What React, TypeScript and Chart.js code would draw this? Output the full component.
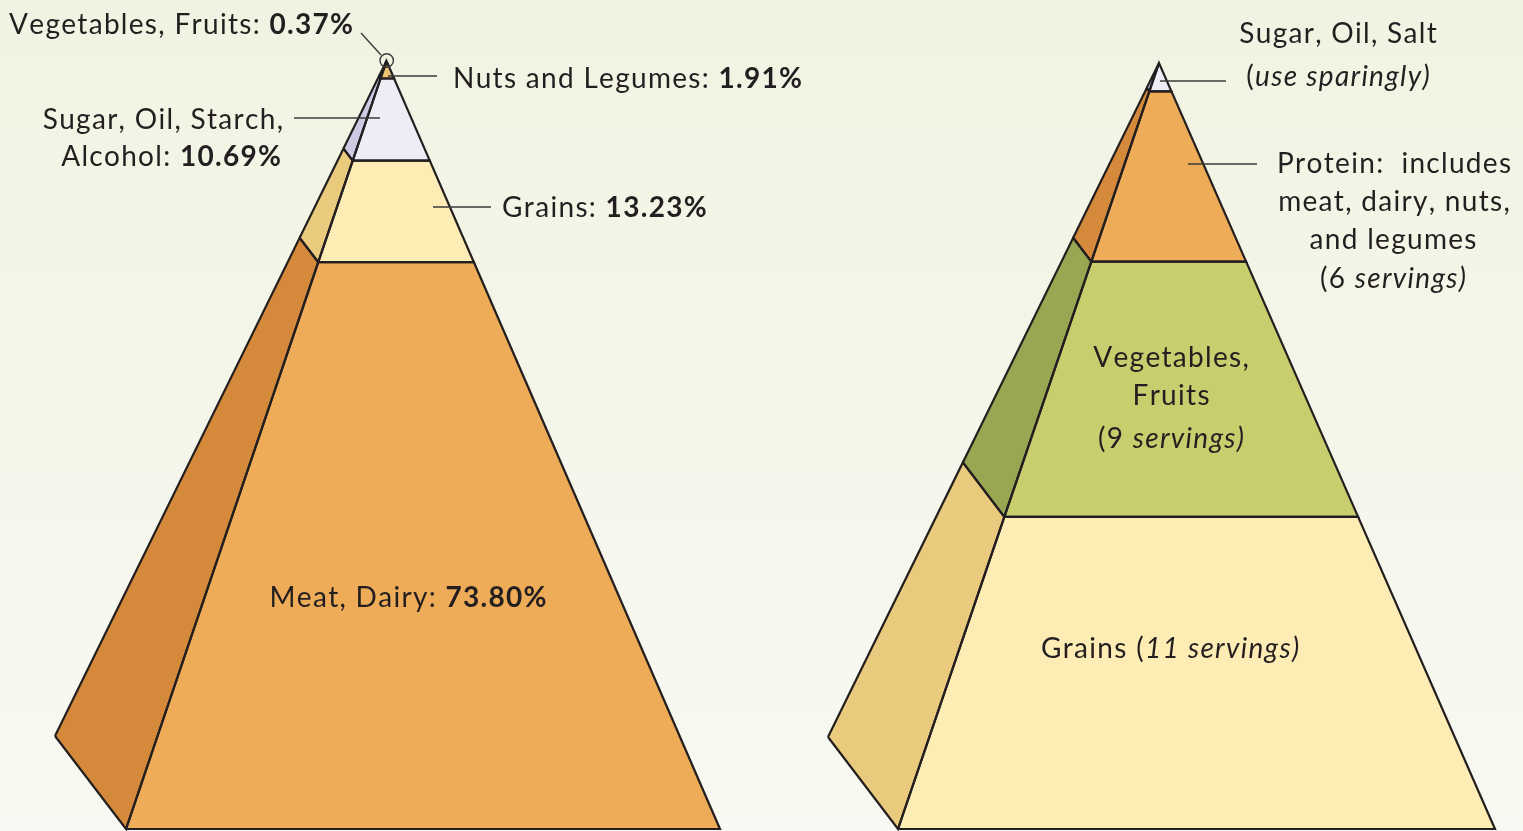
import { useEffect, useRef } from "react";
import { Chart, registerables } from "chart.js";

Chart.register(...registerables);

// ---------------- DATA ----------------
// Left pyramid: share of diet (percent), listed from base to apex
const dietCategories = ["Meat, Dairy", "Grains", "Sugar, Oil, Starch, Alcohol", "Nuts and Legumes", "Vegetables, Fruits"];
const dietPercents = [73.8, 13.23, 10.69, 1.91, 0.37];

// Right pyramid: recommended servings, listed from base to apex
const guideCategories = ["Grains", "Vegetables, Fruits", "Protein", "Sugar, Oil, Salt"];
const guideServings = [11, 9, 6, 1];

// ---------------- STYLE / LAYOUT ----------------
const W = 1523;
const H = 831;
const FAMILY = "Lato, 'Noto Sans', sans-serif";
const FS = 28;
const SPACING = 1.3;
const INK = "#231f20";

const dietFront = ["#efac58", "#feecb5", "#eeedf6", "#ebc46f", "#c8cd6e"];
const dietSide = ["#d5893a", "#eaca7c", "#cdcbe3", "#cfa24c", "#9aa752"];
const guideFront = ["#feecb5", "#c8cd6e", "#efac58", "#eeedf6"];
const guideSide = ["#eaca7c", "#9aa752", "#d5893a", "#cdcbe3"];

type Geo = { apexX: number; apexY: number; baseY: number; baseLX: number; baseRX: number; backX: number; backY: number };
const LEFT_GEO: Geo = { apexX: 386.5, apexY: 61, baseY: 829, baseLX: 126, baseRX: 720, backX: 55, backY: 736 };
const RIGHT_GEO: Geo = { apexX: 1159, apexY: 63, baseY: 829, baseLX: 898, baseRX: 1495, backX: 828, backY: 737 };

const sum = (a: number[]) => a.reduce((s, v) => s + v, 0);

function axisRange(geo: Geo, total: number) {
  const pxPerUnit = (geo.baseY - geo.apexY) / total;
  return { min: -(H - geo.baseY) / pxPerUnit, max: geo.baseY / pxPerUnit };
}

function pyramidDatasets(values: number[], geo: Geo, yAxisID: string, front: string[], side: string[], labels: string[]) {
  const total = sum(values);
  const backVal = ((geo.baseY - geo.backY) / (geo.baseY - geo.apexY)) * total;
  const t = (p: number) => 1 - p / total;
  const FL = (p: number) => ({ x: geo.apexX + t(p) * (geo.baseLX - geo.apexX), y: p });
  const FR = (p: number) => ({ x: geo.apexX + t(p) * (geo.baseRX - geo.apexX), y: p });
  const BK = (p: number) => ({ x: geo.apexX + t(p) * (geo.backX - geo.apexX), y: total - t(p) * (total - backVal) });
  const out: any[] = [];
  let cum = 0;
  values.forEach((v, i) => {
    const p0 = cum;
    const p1 = cum + v;
    cum = p1;
    const common = {
      yAxisID,
      xAxisID: "x",
      showLine: true,
      fill: "shape",
      borderColor: INK,
      borderWidth: 2.2,
      borderJoinStyle: "miter",
      pointRadius: 0,
      tension: 0,
    };
    out.push({ ...common, label: labels[i] + " (side)", backgroundColor: side[i], data: [BK(p0), FL(p0), FL(p1), BK(p1), BK(p0)] });
    out.push({ ...common, label: labels[i], backgroundColor: front[i], data: [FL(p0), FR(p0), FR(p1), FL(p1), FL(p0)] });
  });
  return out;
}

type Run = { t: string; b?: boolean; i?: boolean };
type TextLabel = { runs: Run[]; x: number; y: number; align: "left" | "right" | "center" };

const pct = (v: number) => v.toFixed(2) + "%";

const textLabels: TextLabel[] = [
  { runs: [{ t: dietCategories[4] + ": " }, { t: pct(dietPercents[4]), b: true }], x: 353, y: 34, align: "right" },
  { runs: [{ t: dietCategories[3] + ": " }, { t: pct(dietPercents[3]), b: true }], x: 453, y: 88, align: "left" },
  { runs: [{ t: "Sugar, Oil, Starch," }], x: 283, y: 129, align: "right" },
  { runs: [{ t: "Alcohol: " }, { t: pct(dietPercents[2]), b: true }], x: 281, y: 166, align: "right" },
  { runs: [{ t: dietCategories[1] + ": " }, { t: pct(dietPercents[1]), b: true }], x: 502, y: 217, align: "left" },
  { runs: [{ t: dietCategories[0] + ": " }, { t: pct(dietPercents[0]), b: true }], x: 408, y: 607, align: "center" },

  { runs: [{ t: guideCategories[3] }], x: 1338, y: 43, align: "center" },
  { runs: [{ t: "(" }, { t: "use sparingly)", i: true }], x: 1338, y: 86, align: "center" },
  { runs: [{ t: "Protein:  includes" }], x: 1394, y: 173, align: "center" },
  { runs: [{ t: "meat, dairy, nuts," }], x: 1394, y: 211, align: "center" },
  { runs: [{ t: "and legumes" }], x: 1393, y: 249, align: "center" },
  { runs: [{ t: "(" + guideServings[2] + " " }, { t: "servings)", i: true }], x: 1393, y: 288, align: "center" },
  { runs: [{ t: "Vegetables," }], x: 1171, y: 367, align: "center" },
  { runs: [{ t: "Fruits" }], x: 1171, y: 405, align: "center" },
  { runs: [{ t: "(" + guideServings[1] + " " }, { t: "servings)", i: true }], x: 1171, y: 448, align: "center" },
  { runs: [{ t: guideCategories[0] + " (" }, { t: guideServings[0] + " servings)", i: true }], x: 1170, y: 658, align: "center" },
];

const leaders = [
  [361, 33, 381, 55],
  [388, 76, 437, 76],
  [294, 118, 380, 118],
  [433, 207, 491, 207],
  [1160, 81, 1226, 81],
  [1188, 164, 1257, 164],
];
const tipCircle = { x: 386.7, y: 60.5, r: 6.7 };

const annotationPlugin = {
  id: "annotations",
  afterDatasetsDraw(chart: any) {
    const ctx: any = chart.ctx;
    const xs = chart.scales.x;
    const px = (v: number) => xs.getPixelForValue(v);
    ctx.save();
    ctx.strokeStyle = "#3a3a3a";
    ctx.lineWidth = 1.4;
    for (const [x1, y1, x2, y2] of leaders) {
      ctx.beginPath();
      ctx.moveTo(px(x1), y1);
      ctx.lineTo(px(x2), y2);
      ctx.stroke();
    }
    ctx.beginPath();
    ctx.arc(px(tipCircle.x), tipCircle.y, tipCircle.r, 0, Math.PI * 2);
    ctx.stroke();

    ctx.fillStyle = INK;
    ctx.textBaseline = "alphabetic";
    ctx.textAlign = "left";
    const fontFor = (r: Run) => `${r.i ? "italic " : ""}${r.b ? "bold " : ""}${FS}px ${FAMILY}`;
    // draw character by character to apply letter spacing reliably
    const runWidth = (r: Run) => {
      ctx.font = fontFor(r);
      let w = 0;
      for (const ch of r.t) w += ctx.measureText(ch).width + SPACING;
      return w;
    };
    for (const lab of textLabels) {
      const widths = lab.runs.map(runWidth);
      const total = sum(widths) - SPACING;
      let sx = px(lab.x);
      if (lab.align === "right") sx -= total;
      else if (lab.align === "center") sx -= total / 2;
      lab.runs.forEach((r) => {
        ctx.font = fontFor(r);
        for (const ch of r.t) {
          ctx.fillText(ch, sx, lab.y);
          sx += ctx.measureText(ch).width + SPACING;
        }
      });
    }
    ctx.restore();
  },
};

export default function App() {
  const ref = useRef<HTMLCanvasElement | null>(null);
  useEffect(() => {
    if (!ref.current) return;
    const leftRange = axisRange(LEFT_GEO, sum(dietPercents));
    const rightRange = axisRange(RIGHT_GEO, sum(guideServings));
    const datasets = [
      ...pyramidDatasets(dietPercents, LEFT_GEO, "yL", dietFront, dietSide, dietCategories),
      ...pyramidDatasets(guideServings, RIGHT_GEO, "yR", guideFront, guideSide, guideCategories),
    ];
    const chart = new Chart(ref.current, {
      type: "scatter",
      data: { datasets },
      options: {
        animation: false,
        responsive: true,
        maintainAspectRatio: false,
        events: [],
        layout: { padding: 0 },
        plugins: {
          legend: { display: false },
          tooltip: { enabled: false },
          filler: { drawTime: "beforeDatasetsDraw" },
        },
        scales: {
          x: { type: "linear", axis: "x", min: 0, max: W, display: false },
          yL: { type: "linear", axis: "y", min: leftRange.min, max: leftRange.max, display: false },
          yR: { type: "linear", axis: "y", min: rightRange.min, max: rightRange.max, display: false },
        },
      } as any,
      plugins: [annotationPlugin],
    } as any);
    return () => chart.destroy();
  }, []);
  return (
    <div
      style={{
        position: "fixed",
        left: 0,
        top: 0,
        width: W,
        height: H,
        background: "linear-gradient(#f1f3e2, #f8f9f2)",
      }}
    >
      <canvas ref={ref} style={{ display: "block" }} />
    </div>
  );
}
